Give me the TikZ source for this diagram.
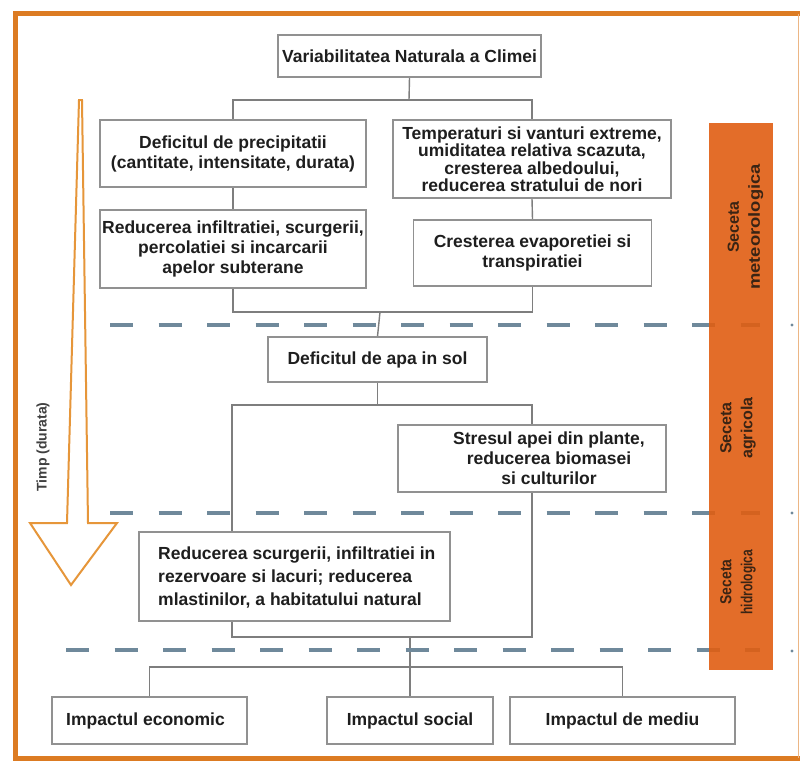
\documentclass[tikz,border=0pt]{standalone}
\usepackage{graphicx}
\usepackage{fontspec}
\setmainfont{Liberation Sans}
\definecolor{frameor}{HTML}{DC7B22}
\definecolor{baror}{HTML}{E05E12}
\definecolor{arrowor}{HTML}{E6963A}
\definecolor{boxgray}{HTML}{919191}
\definecolor{conngray}{HTML}{7E7E7E}
\definecolor{sepblue}{HTML}{6F899B}
\definecolor{txt}{HTML}{1E1E1E}
\definecolor{bartxt}{HTML}{3A2414}
\pgfdeclarelayer{back}
\pgfsetlayers{back,main}
\begin{document}
\begin{tikzpicture}[x=1pt,y=-1pt,
  box/.style={draw=boxgray, line width=1.3pt, fill=white, inner sep=0pt, text=txt, align=center,
    font=\bfseries\fontsize{17.5}{20}\selectfont},
  plain/.style={inner sep=0pt, text=txt, font=\bfseries\fontsize{17.5}{20}\selectfont},
  conn/.style={draw=conngray, line width=1.4pt},
  sepline/.style={draw=sepblue, line width=4pt, dash pattern=on 23pt off 25.5pt},
  barlabel/.style={rotate=90, inner sep=0pt, text=bartxt, align=center,
    font=\bfseries\fontsize{16}{21}\selectfont}]
\useasboundingbox (0,0) rectangle (800,761);
\begin{pgfonlayer}{back}
\fill[white] (0,0) rectangle (800,761);
\end{pgfonlayer}

% boxes
\node[box, minimum width=263pt, minimum height=42pt] (title) at (409.5,56) {Variabilitatea Naturala a Climei};
\node[box, minimum width=266pt, minimum height=67pt] (defp) at (233,153.5) {Deficitul de precipitatii\\(cantitate, intensitate, durata)};
\node[box, minimum width=278pt, minimum height=78pt, font=\bfseries\fontsize{17.5}{17.5}\selectfont] (temp) at (532,159) {Temperaturi si vanturi extreme,\\umiditatea relativa scazuta,\\cresterea albedoului,\\reducerea stratului de  nori};
\node[box, minimum width=266pt, minimum height=78pt] (red1) at (233,249) {Reducerea infiltratiei, scurgerii,\\percolatiei si incarcarii\\apelor subterane};
\node[box, minimum width=238pt, minimum height=66pt] (evap) at (532.5,253) {Cresterea evaporetiei si\\transpiratiei};
\node[box, minimum width=219pt, minimum height=45pt] (sol) at (377.5,359.5) {Deficitul de apa in sol};
\node[box, minimum width=268pt, minimum height=67pt] (stres) at (532,458.5) {};
\node[plain, align=center] (stresT) at (549,458.5) {Stresul apei din plante,\\reducerea biomasei\\si culturilor};
\node[box, minimum width=311pt, minimum height=89pt] (red2) at (294.5,576.5) {};
\node[plain, align=left, anchor=west, font=\bfseries\fontsize{17.5}{23}\selectfont] (red2T) at (158,578) {Reducerea scurgerii, infiltratiei in\\rezervoare si lacuri; reducerea\\mlastinilor, a habitatului natural};
\node[box, minimum width=195pt, minimum height=47pt] (econ) at (149.5,720.5) {};
\node[plain] (econT) at (145.5,720.5) {Impactul economic};
\node[box, minimum width=166pt, minimum height=47pt] (social) at (410,720.5) {Impactul social};
\node[box, minimum width=225pt, minimum height=47pt] (mediu) at (622.5,720.5) {Impactul de mediu};

% junction coordinates
\coordinate (b1) at (409,100);
\coordinate (b2) at (380,312);
\coordinate (c1) at (232,405);
\coordinate (c2) at (532,405);
\coordinate (c3) at (232,637);
\coordinate (c4) at (532,637);
\coordinate (d1) at (410,667);
\coordinate (e1) at (760,325);
\coordinate (e2) at (760,513);
\coordinate (e3) at (760,650);
\coordinate (s1) at (110,325);
\coordinate (s2) at (110,513);
\coordinate (s3) at (66,650);

\begin{pgfonlayer}{back}
\draw[conn] (title.south) -- (b1);
\draw[conn] (defp.north) -- (defp.north |- b1) -- (temp.north |- b1) -- (temp.north);
\draw[conn] (defp.south) -- (red1.north);
\draw[conn] (temp.south) -- (evap.north);
\draw[conn] (red1.south) -- (red1.south |- b2) -- (evap.south |- b2) -- (evap.south);
\draw[conn] (b2) -- (sol.north);
\draw[conn] (sol.south) -- (sol.south |- c1);
\draw[conn] (stres.north) -- (c2) -- (c1) -- (c3) -- (c4) -- (stres.south);
\draw[conn] (social.north |- c4) -- (social.north);
\draw[conn] (econ.north) -- (econ.north |- d1) -- (mediu.north |- d1) -- (mediu.north);
% separators
\draw[sepline] (s1) -- (e1);
\draw[sepline] (s2) -- (e2);
\draw[sepline] (s3) -- (e3);
\end{pgfonlayer}
\fill[sepblue] (792,325) circle (1.6pt);
\fill[sepblue] (792,513) circle (1.6pt);
\fill[sepblue] (792,651) circle (1.6pt);

% orange bar
\fill[baror, fill opacity=0.9] (709,123) rectangle (773,670);
\node[barlabel] (lmeteo) at (745.5,227) {Seceta\\\scalebox{1.15}[1]{meteorologica}};
\node[barlabel] (lagri) at (738,428) {Seceta\\agricola};
\node[barlabel] (lhidro) at (738,582) {\scalebox{0.87}[1]{Seceta}\\\scalebox{0.75}[1]{hidrologica}};

% time arrow
\draw[arrowor, line width=2pt, fill=white, line join=miter]
  (79,100) -- (67,523) -- (30,523) -- (71,585) -- (117,523) -- (88,523) -- (82,100) -- cycle;
\node[rotate=90, inner sep=0pt, text=txt!85, font=\bfseries\fontsize{14}{16}\selectfont] (timp) at (43,447) {Timp (durata)};

% frame
\draw[frameor, line width=5pt] (800,13.5) -- (15.5,13.5) -- (15.5,758) -- (800,758);
\draw[frameor!55, line width=1.5pt] (798.5,13.5) -- (798.5,758);
\end{tikzpicture}
\end{document}
